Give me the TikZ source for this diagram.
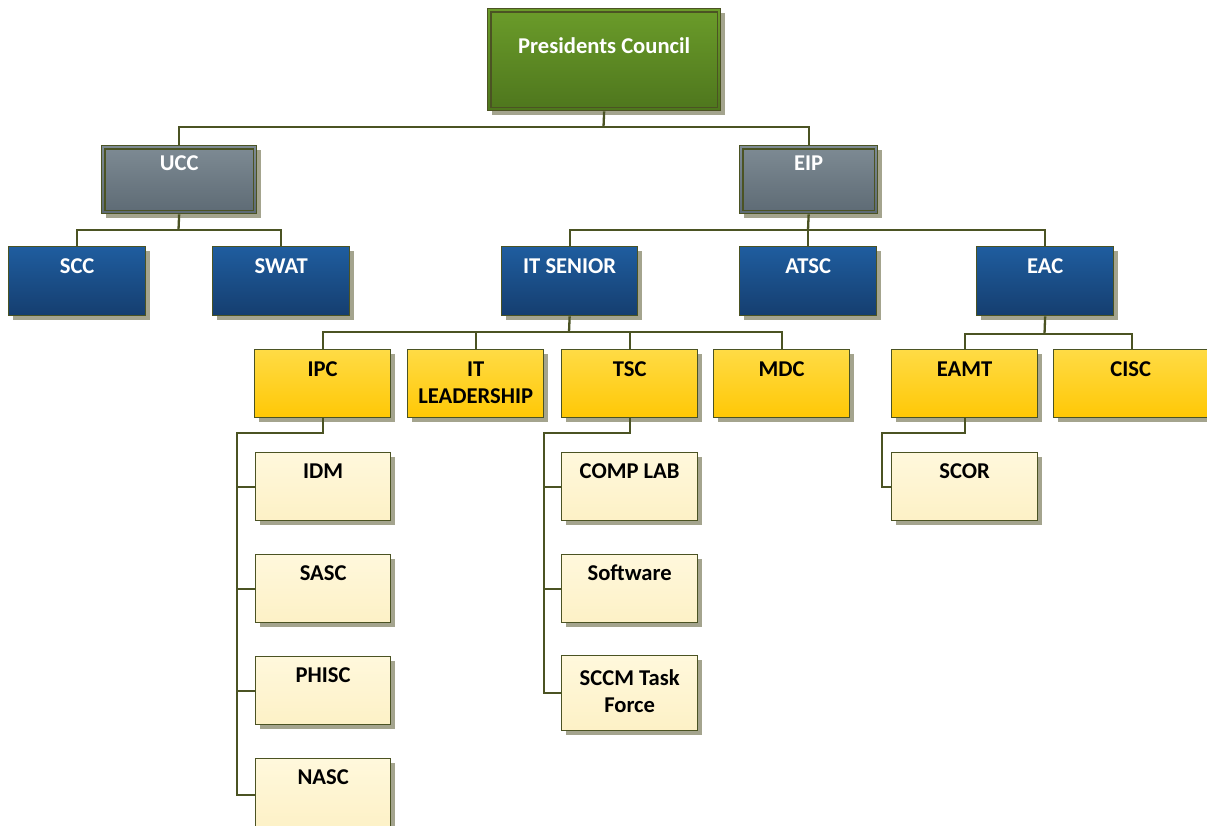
\documentclass[tikz,border=0pt]{standalone}
\usepackage{fontspec}
\setmainfont{Carlito}
\usetikzlibrary{shadows}

\definecolor{edge}{HTML}{4B5323}
\definecolor{shade}{HTML}{A4A48E}
\definecolor{greenT}{HTML}{6B9C2A}
\definecolor{greenB}{HTML}{4E761D}
\definecolor{grayT}{HTML}{7E8B94}
\definecolor{grayB}{HTML}{5D6A74}
\definecolor{blueT}{HTML}{1F5D9F}
\definecolor{blueB}{HTML}{153E6F}
\definecolor{yelT}{HTML}{FFDB45}
\definecolor{yelB}{HTML}{FFC805}
\definecolor{paleT}{HTML}{FFF8DC}
\definecolor{paleB}{HTML}{FDF1C6}

\tikzset{
  orgbox/.style={rectangle, draw=edge, line width=1.3pt, anchor=north west,
    inner sep=0pt,
    general shadow={fill=shade, shadow xshift=4pt, shadow yshift=-4pt}},
  lvlA/.style={orgbox, top color=greenT, bottom color=greenB},
  lvlB/.style={orgbox, top color=grayT, bottom color=grayB},
  lvlC/.style={orgbox, top color=blueT, bottom color=blueB},
  lvlD/.style={orgbox, top color=yelT, bottom color=yelB},
  lvlE/.style={orgbox, top color=paleT, bottom color=paleB},
  inner/.style={draw=edge, line width=1.3pt},
  caption/.style={anchor=base, inner sep=0pt, align=center,
    font=\bfseries\fontsize{22.6}{27}\selectfont},
  light/.style={caption, text=white},
  dark/.style={caption, text=black},
  wire/.style={draw=edge, line width=2.3pt}
}

\begin{document}
\begin{tikzpicture}[x=1pt, y=-1pt]
\useasboundingbox (0,0) rectangle (1207,825);

% ---- boxes ----
\node[lvlA, minimum width=233pt, minimum height=102pt] (pc) at (487,8) {};
\draw[inner] ([xshift=4pt,yshift=-4pt]pc.north west) rectangle ([xshift=-4pt,yshift=4pt]pc.south east);

\node[lvlB, minimum width=155pt, minimum height=68pt] (ucc) at (101,145) {};
\draw[inner] ([xshift=4pt,yshift=-4pt]ucc.north west) rectangle ([xshift=-4pt,yshift=4pt]ucc.south east);
\node[lvlB, minimum width=138pt, minimum height=68pt] (eip) at (739,145) {};
\draw[inner] ([xshift=4pt,yshift=-4pt]eip.north west) rectangle ([xshift=-4pt,yshift=4pt]eip.south east);

\node[lvlC, minimum width=137pt, minimum height=69pt] (scc)  at (8,246) {};
\node[lvlC, minimum width=137pt, minimum height=69pt] (swat) at (212,246) {};
\node[lvlC, minimum width=136pt, minimum height=69pt] (its)  at (501,246) {};
\node[lvlC, minimum width=137pt, minimum height=69pt] (atsc) at (739,246) {};
\node[lvlC, minimum width=137pt, minimum height=69pt] (eac)  at (976,246) {};

\node[lvlD, minimum width=136pt, minimum height=68pt] (ipc)  at (254,349) {};
\node[lvlD, minimum width=136pt, minimum height=68pt] (itl)  at (407,349) {};
\node[lvlD, minimum width=136pt, minimum height=68pt] (tsc)  at (561,349) {};
\node[lvlD, minimum width=136pt, minimum height=68pt] (mdc)  at (713,349) {};
\node[lvlD, minimum width=146pt, minimum height=68pt] (eamt) at (891,349) {};
\node[lvlD, minimum width=157pt, minimum height=68pt] (cisc) at (1053,349) {};

\node[lvlE, minimum width=135pt, minimum height=68pt] (idm)   at (255,452) {};
\node[lvlE, minimum width=135pt, minimum height=68pt] (sasc)  at (255,554) {};
\node[lvlE, minimum width=135pt, minimum height=68pt] (phisc) at (255,656) {};
\node[lvlE, minimum width=135pt, minimum height=72pt] (nasc)  at (255,758) {};
\node[lvlE, minimum width=136pt, minimum height=68pt] (comp)  at (561,452) {};
\node[lvlE, minimum width=136pt, minimum height=68pt] (soft)  at (561,554) {};
\node[lvlE, minimum width=136pt, minimum height=75pt] (sccm)  at (561,655) {};
\node[lvlE, minimum width=146pt, minimum height=68pt] (scor)  at (891,452) {};

% ---- captions (base = baseline of the last line) ----
\node[light] at ([yshift=-45pt]pc.north) {Presidents Council};
\node[light] at ([yshift=-25pt]ucc.north) {UCC};
\node[light] at ([yshift=-25pt]eip.north) {EIP};
\node[light] at ([yshift=-27pt]scc.north) {SCC};
\node[light] at ([yshift=-27pt]swat.north) {SWAT};
\node[light] at ([yshift=-27pt]its.north) {IT SENIOR};
\node[light] at ([yshift=-27pt]atsc.north) {ATSC};
\node[light] at ([yshift=-27pt]eac.north) {EAC};
\node[dark] at ([yshift=-27pt]ipc.north) {IPC};
\node[dark] at ([yshift=-54pt]itl.north) {IT\\LEADERSHIP};
\node[dark] at ([yshift=-27pt]tsc.north) {TSC};
\node[dark] at ([yshift=-27pt]mdc.north) {MDC};
\node[dark] at ([yshift=-27pt]eamt.north) {EAMT};
\node[dark] at ([xshift=-1.5pt,yshift=-27pt]cisc.north) {CISC};
\node[dark] at ([yshift=-26pt]idm.north) {IDM};
\node[dark] at ([yshift=-26pt]sasc.north) {SASC};
\node[dark] at ([yshift=-26pt]phisc.north) {PHISC};
\node[dark] at ([yshift=-26pt]nasc.north) {NASC};
\node[dark] at ([yshift=-26pt]comp.north) {COMP LAB};
\node[dark] at ([yshift=-26pt]soft.north) {Software};
\node[dark] at ([yshift=-57pt]sccm.north) {SCCM Task\\Force};
\node[dark] at ([yshift=-26pt]scor.north) {SCOR};

% ---- connectors ----
\coordinate (pcbus) at (603.5,127);
\draw[wire] (pc.south) -- (pcbus);
\draw[wire] (ucc.north) |- (pcbus) -| (eip.north);

\coordinate (uccbus) at (178.5,230);
\draw[wire] (ucc.south) -- (uccbus);
\draw[wire] (scc.north) |- (uccbus) -| (swat.north);

\coordinate (eipbus) at (808,230);
\draw[wire] (eip.south) -- (eipbus);
\draw[wire] (its.north) |- (eipbus) -| (eac.north);
\draw[wire] (atsc.north) -- (atsc.north |- eipbus);

\coordinate (itsbus) at (569,332);
\draw[wire] (its.south) -- (itsbus);
\draw[wire] (ipc.north) |- (itsbus) -| (mdc.north);
\draw[wire] (itl.north) -- (itl.north |- itsbus);
\draw[wire] (tsc.north) -- (tsc.north |- itsbus);

\coordinate (eacbus) at (1044.5,334);
\draw[wire] (eac.south) -- (eacbus);
\draw[wire] (eamt.north) |- (eacbus) -| (cisc.north);

\coordinate (ipcbus) at (237,433);
\draw[wire] (ipc.south) |- (ipcbus) |- (nasc.west);
\draw[wire] (idm.west) -- (idm.west -| ipcbus);
\draw[wire] (sasc.west) -- (sasc.west -| ipcbus);
\draw[wire] (phisc.west) -- (phisc.west -| ipcbus);

\coordinate (tscbus) at (544,433);
\draw[wire] (tsc.south) |- (tscbus) |- (sccm.west);
\draw[wire] (comp.west) -- (comp.west -| tscbus);
\draw[wire] (soft.west) -- (soft.west -| tscbus);

\coordinate (eamtbus) at (882,433);
\draw[wire] (eamt.south) |- (eamtbus) |- (scor.west);
\end{tikzpicture}
\end{document}
